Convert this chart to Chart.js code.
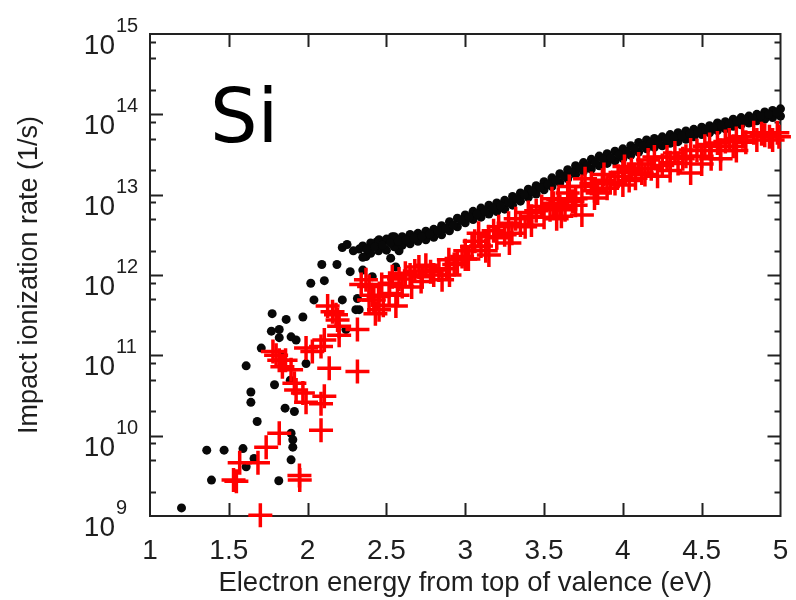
<!DOCTYPE html>
<html><head><meta charset="utf-8">
<script src="https://cdn.jsdelivr.net/npm/chart.js@4/dist/chart.umd.min.js"></script>
<style>html,body{margin:0;padding:0;background:#fff}#wrap{width:796px;height:600px}</style>
</head><body><div id="wrap"><canvas id="c" width="796" height="600"></canvas></div>
<script>
// ---- data ----
const xTickValues = [1, 1.5, 2, 2.5, 3, 3.5, 4, 4.5, 5];
const yDecadeExponents = [9, 10, 11, 12, 13, 14, 15];
const yMinorMantissas = [2, 5, 8];

// scattered black dots (low energy region)
const blackScatterE = [1.20,1.36,1.47,1.39,1.59,1.61,1.64,1.64,1.68,1.66,1.61,1.775,1.706,1.77,1.864,1.97,1.79,1.857,1.916,1.895,1.906,1.895,1.817,2.02,2.09,2.186,2.106,2.04,2.22,2.327,2.44,2.27,2.327,1.99,1.927,1.82,1.82,1.895,1.84,1.906,2.22,2.243,2.306,2.37,2.316,2.348,2.453,2.537,2.527,2.559,2.35,2.41,2.58,1.89,2.25,2.29,2.40];
const blackScatterRate = [1.26e9,6.6e9,6.6e9,2.8e9,6.9e9,7.4e10,3.5e10,2.6e10,1.5e10,5.2e9,4.1e9,3.3e11,1.23e11,2.0e11,2.8e11,3.0e11,4.3e10,2.2e10,2.0e10,1.07e10,7.2e9,5.0e9,2.75e9,7.9e11,1.35e12,1.35e12,8.5e11,4.9e11,2.2e12,2.1e12,2.6e12,1.1e12,3.7e11,7.9e10,1.55e11,1.66e11,2.1e11,1.7e11,9.5e10,8.9e9,4.9e11,2.1e11,3.7e11,1.7e12,5.1e11,2.24e12,2.75e12,3.0e12,1.62e12,1.26e12,1.15e12,9.5e11,2.0e12,4.9e10,2.4e12,2.0e12,2.2e12];

// dense black band (2.35 - 5 eV): upper edge, lower edge, middle
const blackBandE = [2.35,2.40,2.45,2.50,2.55,2.60,2.65,2.70,2.75,2.80,2.85,2.90,2.95,3.00,3.05,3.10,3.15,3.20,3.25,3.30,3.35,3.40,3.45,3.50,3.55,3.60,3.65,3.70,3.75,3.80,3.85,3.90,3.95,4.00,4.05,4.10,4.15,4.20,4.25,4.30,4.35,4.40,4.45,4.50,4.55,4.60,4.65,4.70,4.75,4.80,4.85,4.90,4.95,5.00];
const blackBandUpper = [2.3e12,2.5e12,2.6e12,2.8e12,3.0e12,3.0e12,3.2e12,3.3e12,3.5e12,3.7e12,4.1e12,4.6e12,5.1e12,5.6e12,6.2e12,6.8e12,7.4e12,7.9e12,8.5e12,9.5e12,1.05e13,1.17e13,1.29e13,1.45e13,1.62e13,1.82e13,2.04e13,2.29e13,2.51e13,2.75e13,3.02e13,3.24e13,3.47e13,3.72e13,4.07e13,4.47e13,4.79e13,5.0e13,5.25e13,5.6e13,5.9e13,6.2e13,6.5e13,6.9e13,7.2e13,7.8e13,8.1e13,8.7e13,9.1e13,9.5e13,1.0e14,1.07e14,1.12e14,1.17e14];
const blackBandLower = [1.66e12,1.86e12,2.0e12,2.04e12,2.24e12,2.34e12,2.45e12,2.63e12,2.75e12,2.95e12,3.16e12,3.55e12,3.98e12,4.47e12,4.9e12,5.25e12,5.75e12,6.17e12,6.6e12,7.4e12,8.3e12,9.3e12,1.02e13,1.15e13,1.26e13,1.41e13,1.58e13,1.78e13,1.95e13,2.09e13,2.29e13,2.45e13,2.63e13,2.82e13,3.09e13,3.39e13,3.72e13,3.89e13,4.07e13,4.37e13,4.57e13,4.9e13,5.25e13,5.6e13,5.9e13,6.3e13,6.6e13,7.1e13,7.4e13,7.8e13,8.3e13,8.7e13,9.1e13,9.5e13];
const blackMidE = [2.375,2.425,2.475,2.525,2.575,2.625,2.675,2.725,2.775,2.825,2.875,2.925,2.975,3.025,3.075,3.125,3.175,3.225,3.275,3.325,3.375,3.425,3.475,3.525,3.575,3.625,3.675,3.725,3.775,3.825,3.875,3.925,3.975,4.025,4.075,4.125,4.175,4.225,4.275,4.325,4.375,4.425,4.475,4.525,4.575,4.625,4.675,4.725,4.775,4.825,4.875,4.925,4.975];
const blackMidRate = [2.09e12,2.24e12,2.34e12,2.51e12,2.63e12,2.75e12,2.88e12,3.02e12,3.24e12,3.55e12,3.8e12,4.17e12,4.79e12,5.25e12,5.75e12,6.17e12,6.76e12,7.24e12,7.94e12,8.9e12,1.0e13,1.1e13,1.23e13,1.35e13,1.51e13,1.7e13,1.91e13,2.14e13,2.29e13,2.51e13,2.75e13,2.88e13,3.16e13,3.39e13,3.72e13,4.07e13,4.37e13,4.57e13,4.9e13,5.13e13,5.37e13,5.75e13,6.03e13,6.46e13,6.76e13,7.24e13,7.59e13,8.13e13,8.51e13,8.91e13,9.55e13,1.0e14,1.05e14];

// red crosses
const redE = [1.53,1.548,1.569,1.70,1.685,1.737,1.82,1.948,1.95,2.085,2.085,2.106,1.99,1.97,1.916,1.927,1.78,1.82,1.86,1.895,1.80,1.84,1.99,2.03,2.085,2.106,2.137,2.316,2.316,2.20,2.18,2.158,2.19,2.127,2.20,2.34,2.39,2.41,2.42,2.43,
  2.37,2.39,2.45,2.453,2.517,2.537,2.56,2.60,2.706,2.727,2.833,2.853,2.896,2.98,3.043,3.085,3.149,3.212,3.275,3.296,3.422,3.485,3.538,2.65,2.78,2.93,3.0,3.1,3.2,3.35,3.45,
  3.59,3.61,3.633,3.65,3.74,3.74,3.80,3.84,3.87,3.95,3.97,4.01,4.054,4.12,4.16,4.22,4.28,4.35,4.43,4.43,4.52,4.56,4.675,4.83,4.9,4.98,4.6,4.72,4.78,4.95,4.4,4.25,4.08,3.9,3.68,3.56,
  2.47,2.52,2.58,2.62,2.68,2.75,2.80,2.88,2.95,3.02,3.06,3.13,3.18,3.25,3.32,3.38,3.40,3.50,3.55,3.60,3.66,3.70,3.76,3.82,3.88,3.92,4.00,4.04,4.10,4.18,4.20,4.30,4.33,4.38,4.47,4.50,4.55,4.62,4.65,4.70,4.76,4.85,4.88,4.93,4.99,
  2.48,2.57,2.66,2.72,2.90,3.00,3.15,3.28,3.42,3.58,3.70,3.82,4.00,4.14,4.30,4.50,4.62,4.72];
const redRate = [2.8e9,2.7e9,4.6e9,1.02e9,4.6e9,7.2e9,1.07e10,3.2e9,2.8e9,1.17e10,2.5e10,3.1e10,2.6e10,3.4e10,4.5e10,3.7e10,1.12e11,8.7e10,8.7e10,6.6e10,1.0e11,7.2e10,1.23e11,1.12e11,1.29e11,1.55e11,6.9e10,6.3e10,2.1e11,2.3e11,3.2e11,3.5e11,2.75e11,4.1e11,1.78e11,7.6e11,7.2e11,5.6e11,4.9e11,3.3e11,
  8.7e11,4.9e11,5.4e11,3.7e11,5.9e11,9.5e11,4.1e11,7.2e11,1.26e12,9.5e11,1.15e12,8.7e11,1.55e12,1.7e12,2.24e12,3.3e12,3.0e12,4.0e12,4.4e12,3.3e12,5.4e12,7.1e12,6.5e12,1.0e12,1.1e12,1.35e12,2.0e12,2.3e12,2.9e12,4.2e12,6.3e12,
  8.7e12,5.4e12,6.5e12,1.05e13,1.26e13,5.6e12,1.38e13,1.05e13,1.51e13,1.38e13,1.7e13,2.24e13,2.04e13,1.86e13,2.7e13,1.7e13,2.95e13,2.45e13,1.86e13,3.6e13,4.0e13,2.8e13,4.8e13,5.9e13,5.5e13,5.9e13,4.4e13,5.0e13,4.5e13,4.8e13,3.0e13,2.3e13,1.6e13,1.2e13,8.3e12,7.8e12,
  7.6e11,7.9e11,8.9e11,1.05e12,1.12e12,1.32e12,1.0e12,1.2e12,1.41e12,1.58e12,2.63e12,2.0e12,3.55e12,3.16e12,5.0e12,4.0e12,6.0e12,5.25e12,8.9e12,7.1e12,1.26e13,8.9e12,1.58e13,1.12e13,1.78e13,1.41e13,1.9e13,1.5e13,2.4e13,2.1e13,2.95e13,2.5e13,3.3e13,2.8e13,3.55e13,3.0e13,4.2e13,3.55e13,4.6e13,4.0e13,5.25e13,4.8e13,5.75e13,5.25e13,5.25e13,
  4.2e11,5.6e11,7.1e11,8.3e11,1.0e12,1.58e12,1.78e12,2.5e12,4.2e12,5.0e12,7.4e12,9.1e12,1.32e13,1.78e13,2.0e13,2.4e13,2.8e13,3.55e13];

// ---- build datasets ----
function pts(xs, ys){ return xs.map((x,i)=>({x:x, y:ys[i]})); }
const blackPoints = [].concat(
  pts(blackScatterE, blackScatterRate),
  pts(blackBandE, blackBandUpper),
  pts(blackBandE, blackBandLower),
  pts(blackMidE, blackMidRate)
);
const redPoints = pts(redE, redRate);

const FONT = '"Liberation Sans", Arial, sans-serif';
const TXT = '#1e1e1e';

const decor = {
  id: 'decor',
  beforeDatasetsDraw(chart){
    const {ctx, chartArea:a, scales:{x, y}} = chart;
    ctx.save();
    ctx.strokeStyle = '#222';
    ctx.lineWidth = 2;
    ctx.strokeRect(a.left, a.top, a.right - a.left, a.bottom - a.top);
    ctx.beginPath();
    xTickValues.forEach(v => {
      const px = Math.round(x.getPixelForValue(v)) + 0.5;
      if (px <= a.left + 1 || px >= a.right - 1) return;
      ctx.moveTo(px, a.bottom); ctx.lineTo(px, a.bottom - 13);
      ctx.moveTo(px, a.top); ctx.lineTo(px, a.top + 13);
    });
    yDecadeExponents.forEach(n => {
      const py = Math.round(y.getPixelForValue(Math.pow(10, n))) + 0.5;
      if (py > a.top + 1 && py < a.bottom - 1) {
        ctx.moveTo(a.left, py); ctx.lineTo(a.left + 13, py);
        ctx.moveTo(a.right, py); ctx.lineTo(a.right - 13, py);
      }
      if (n < 15) yMinorMantissas.forEach(m => {
        const pm = Math.round(y.getPixelForValue(m * Math.pow(10, n))) + 0.5;
        ctx.moveTo(a.left, pm); ctx.lineTo(a.left + 6, pm);
        ctx.moveTo(a.right, pm); ctx.lineTo(a.right - 6, pm);
      });
    });
    ctx.stroke();
    ctx.restore();
  },
  afterDraw(chart){
    const {ctx, scales:{y}} = chart;
    ctx.save();
    ctx.fillStyle = TXT;
    yDecadeExponents.forEach(n => {
      const py = y.getPixelForValue(Math.pow(10, n));
      ctx.font = '28px ' + FONT;
      ctx.textAlign = 'right';
      ctx.textBaseline = 'alphabetic';
      ctx.fillText('10', 115, py + 20);
      ctx.font = '20px ' + FONT;
      ctx.textAlign = 'left';
      ctx.fillText(String(n), 116, py - 2);
    });
    ctx.fillStyle = '#000';
    ctx.font = '75px "DejaVu Sans", sans-serif';
    ctx.textAlign = 'left';
    ctx.fillText('Si', 210, 142);
    ctx.restore();
  }
};

new Chart(document.getElementById('c'), {
  type: 'scatter',
  data: {
    datasets: [
      { label: 'red', data: redPoints, order: 0, clip: false,
        pointStyle: 'cross', pointRadius: 12, pointBorderWidth: 3.5,
        borderColor: '#ff0000', backgroundColor: '#ff0000', pointHoverRadius: 12 },
      { label: 'black', data: blackPoints, order: 1, clip: false,
        pointStyle: 'circle', pointRadius: 4.5, pointBorderWidth: 0,
        borderColor: 'rgba(0,0,0,0)', backgroundColor: '#080808', pointHoverRadius: 4.5 }
    ]
  },
  options: {
    responsive: false,
    animation: false,
    devicePixelRatio: 1,
    layout: { padding: { top: 34, right: 13, left: 0, bottom: 0 } },
    plugins: { legend: { display: false }, tooltip: { enabled: false } },
    scales: {
      x: {
        type: 'linear', min: 1, max: 5,
        afterFit(s){ s.height = 84; s.paddingLeft = 0; s.paddingRight = 0; },
        afterBuildTicks(s){ s.ticks = xTickValues.map(v => ({value: v})); },
        grid: { display: false, drawTicks: false },
        border: { display: false },
        ticks: { color: TXT, font: { family: FONT, size: 28 }, padding: 18, maxRotation: 0,
                 callback: v => String(v) },
        title: { display: true, text: 'Electron energy from top of valence (eV)', color: TXT,
                 font: { family: FONT, size: 27.5 }, padding: { top: 0, bottom: 0 } }
      },
      y: {
        type: 'logarithmic', min: 1e9, max: 1e15,
        afterFit(s){ s.width = 150; s.paddingTop = 0; s.paddingBottom = 0; },
        grid: { display: false, drawTicks: false },
        border: { display: false },
        ticks: { display: false },
        title: { display: true, text: 'Impact ionization rate (1/s)', color: TXT,
                 font: { family: FONT, size: 27 }, padding: { top: 13, bottom: 0 } }
      }
    }
  },
  plugins: [decor]
});
</script>
</body></html>
